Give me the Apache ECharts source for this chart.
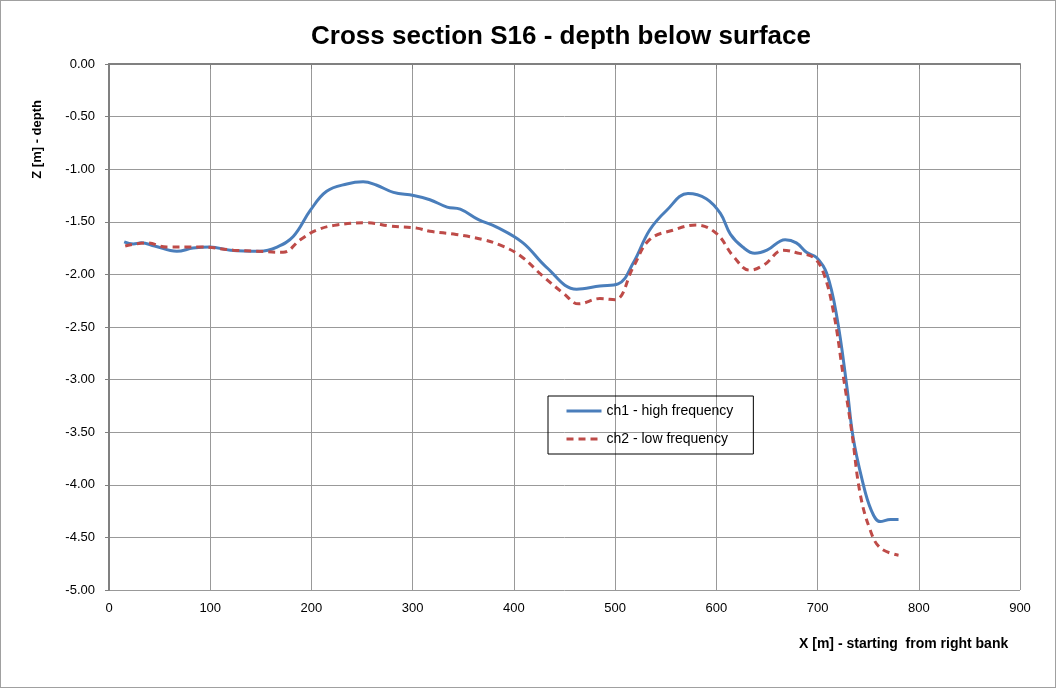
<!DOCTYPE html>
<html>
<head>
<meta charset="utf-8">
<script src="https://cdn.jsdelivr.net/npm/echarts@6/dist/echarts.min.js"></script>
<style>
  html, body { margin: 0; padding: 0; background: #fff; }
  #cross-section { width: 1056px; height: 688px; box-sizing: border-box; border: 1px solid #a0a0a0; }
</style>
</head>
<body>
<div id="cross-section"></div>
<script>
// ch1 - high frequency
const ch1X = [15, 24, 32, 45, 67, 83, 100, 120, 149, 166, 182, 199, 215, 235, 251, 264, 281, 301, 317, 334, 347, 365, 383, 409, 432, 462, 485, 503, 518, 534, 551, 572, 590, 604, 614, 626, 638, 650, 668, 679, 689, 699, 709, 719, 729, 735, 744, 753, 762, 772, 780]
const ch1Z = [-1.69, -1.71, -1.70, -1.73, -1.78, -1.75, -1.74, -1.77, -1.78, -1.74, -1.64, -1.39, -1.21, -1.14, -1.12, -1.15, -1.22, -1.25, -1.29, -1.36, -1.38, -1.48, -1.55, -1.70, -1.93, -2.14, -2.11, -2.09, -1.89, -1.58, -1.39, -1.23, -1.28, -1.42, -1.62, -1.74, -1.80, -1.77, -1.67, -1.70, -1.79, -1.84, -1.99, -2.40, -3.07, -3.54, -3.95, -4.24, -4.35, -4.33, -4.33]

// ch2 - low frequency
const ch2X = [16, 37, 57, 90, 123, 146, 172, 189, 205, 225, 255, 278, 304, 317, 343, 370, 386, 406, 429, 449, 464, 485, 500, 518, 534, 557, 580, 600, 617, 633, 647, 666, 682, 696, 706, 716, 725, 734, 742, 752, 762, 780]
const ch2Z = [-1.73, -1.70, -1.74, -1.74, -1.77, -1.78, -1.79, -1.67, -1.58, -1.53, -1.51, -1.54, -1.56, -1.59, -1.62, -1.67, -1.72, -1.82, -2.02, -2.18, -2.28, -2.23, -2.24, -1.93, -1.67, -1.58, -1.53, -1.61, -1.83, -1.96, -1.91, -1.77, -1.80, -1.84, -1.99, -2.37, -2.94, -3.51, -4.08, -4.43, -4.60, -4.67]

const seriesNames = ['ch1 - high frequency', 'ch2 - low frequency']

const chartDom = document.getElementById('cross-section')
const myChart = echarts.init(chartDom)

const pairs = (xs, ys) => xs.map((x, i) => [x, ys[i]])
const font = 'Liberation Sans, Arial, sans-serif'

let option = {
  animation: false,
  textStyle: { fontFamily: font },
  title: {
    text: 'Cross section S16 - depth below surface',
    left: 555,
    textAlign: 'center',
    top: 18,
    textStyle: { fontSize: 26, fontWeight: 'bold', color: '#000', fontFamily: font }
  },
  grid: {
    left: 108,
    right: 35,
    top: 63,
    bottom: 97
  },
  legend: {
    orient: 'vertical',
    left: 547,
    top: 395,
    data: seriesNames,
    borderColor: '#000',
    borderWidth: 1,
    padding: [8, 20, 8, 17],
    itemGap: 14,
    itemWidth: 35,
    itemHeight: 14,
    itemStyle: { opacity: 0 },
    lineStyle: { width: 3 },
    textStyle: { fontSize: 14, color: '#000', fontFamily: font }
  },
  xAxis: {
    type: 'value',
    min: 0,
    max: 900,
    interval: 100,
    axisLine: { lineStyle: { color: '#808080', width: 2 } },
    axisTick: { show: true, length: 5, lineStyle: { color: '#808080' } },
    axisLabel: { color: '#000', fontSize: 13, margin: 12 },
    splitLine: { show: true, lineStyle: { color: '#999', width: 1 } }
  },
  yAxis: {
    type: 'value',
    min: -5,
    max: 0,
    interval: 0.5,
    axisLine: { show: true, onZero: false, lineStyle: { color: '#808080', width: 2 } },
    axisTick: { show: true, length: 4, lineStyle: { color: '#808080' } },
    axisLabel: { color: '#000', fontSize: 13, margin: 14, formatter: v => v.toFixed(2) },
    splitLine: { show: true, lineStyle: { color: '#999', width: 1 } }
  },
  graphic: [
    {
      type: 'text',
      left: 30,
      top: 99,
      rotation: Math.PI / 2,
      style: { text: 'Z [m] - depth', font: 'bold 13px ' + font, fill: '#000' }
    },
    {
      type: 'text',
      left: 798,
      top: 636,
      style: { text: 'X [m] - starting  from right bank', font: 'bold 14px ' + font, fill: '#000' }
    }
  ],
  series: [
    {
      name: seriesNames[0],
      type: 'line',
      data: pairs(ch1X, ch1Z),
      smooth: 0.4,
      symbol: 'none',
      color: '#4a7ebb',
      lineStyle: { width: 3, color: '#4a7ebb' }
    },
    {
      name: seriesNames[1],
      type: 'line',
      data: pairs(ch2X, ch2Z),
      smooth: 0.4,
      symbol: 'none',
      color: '#be4b48',
      lineStyle: { width: 3, color: '#be4b48', type: [7, 5] }
    }
  ]
}
option && myChart.setOption(option)
</script>
</body>
</html>
